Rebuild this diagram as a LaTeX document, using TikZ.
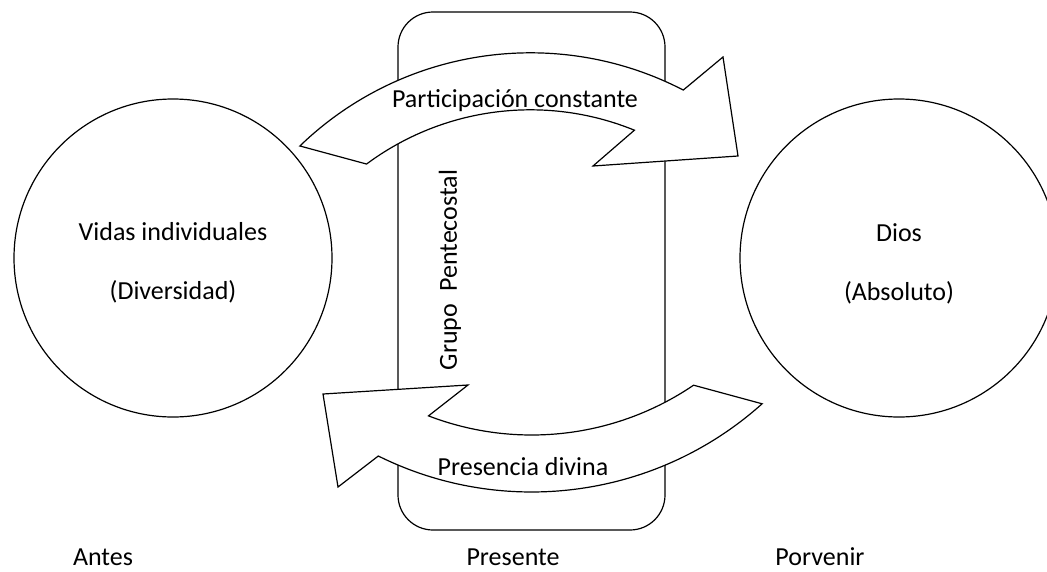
\documentclass[tikz,border=0pt]{standalone}
\usepackage{fontspec}
\setmainfont{Carlito}
\usetikzlibrary{calc}
\usetikzlibrary{positioning}

\begin{document}
\begin{tikzpicture}[x=1pt,y=-1pt,line width=1.2pt,
  every node/.style={font=\fontsize{26}{31}\selectfont},
  orb/.style={draw, circle, minimum size=318pt, inner sep=0pt},
  band/.style={draw, fill=white, line join=miter}]
\useasboundingbox (0,0) rectangle (1047,571);
% present column
\node[draw, rounded corners=35pt, minimum width=267pt, minimum height=518pt] (grupo) at (531.5,271) {};
% the two worlds
\node[orb] (vidas) at (173,258) {};
\node[orb] (dios)  at (899,258) {};
\node (vidasA) at ($(vidas)+(0,-26)$) {Vidas individuales};
\node (vidasB) at ($(vidas)+(0,34)$)  {(Diversidad)};
\node (diosA)  at ($(dios)+(0,-25)$)  {Dios};
\node (diosB)  at ($(dios)+(0,35)$)   {(Absoluto)};
% curved arrows
\coordinate (cA) at (530.5,384.8);
\coordinate (cB) at (531.7,147);
\draw[band] ($(cA)+(-134:332)$) arc[start angle=-134, end angle=-62.6, radius=332]
  -- (723,57) -- (738,156) -- (593,166)
  -- ($(cA)+(-67.8:275)$) arc[start angle=-67.8, end angle=-126.6, radius=275] -- cycle;
\draw[band] ($(cB)+(48.1:345)$) arc[start angle=48.1, end angle=116.4, radius=345]
  -- (338,487) -- (323,394) -- (468,385)
  -- ($(cB)+(111:288)$) arc[start angle=111, end angle=55.8, radius=288] -- cycle;
\node (part) at (515,101) {Participación constante};
\node (pres) at (523,467) {Presencia divina};
\node[rotate=90] (pente) at (450,270) {Grupo\hspace{12pt}Pentecostal};
% time line
\node[inner sep=1pt] (antes) at (103,557) {Antes};
\node[inner sep=1pt] (ahora) at (513,557) {Presente};
\node[inner sep=1pt] (porv)  at (820,557) {Porvenir};
\end{tikzpicture}
\end{document}
